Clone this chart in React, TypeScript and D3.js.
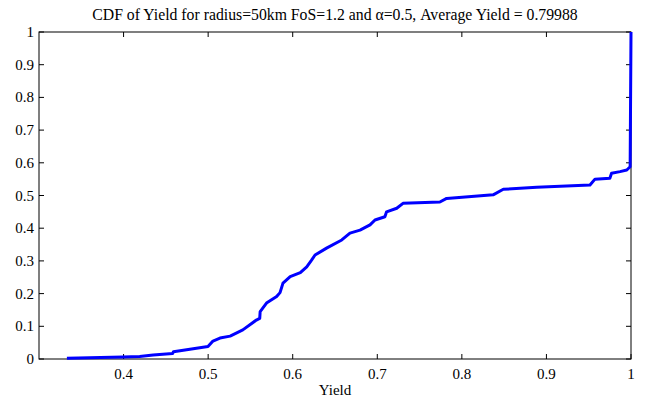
import React from "react";
import * as d3 from "d3";

const yieldValues = [0.333, 0.3993, 0.419, 0.435, 0.458, 0.459, 0.4998, 0.5057, 0.514, 0.526, 0.541, 0.557, 0.561, 0.5615, 0.569, 0.581, 0.585, 0.5885, 0.597, 0.609, 0.6166, 0.6225, 0.6264, 0.64, 0.658, 0.6677, 0.6796, 0.6914, 0.6973, 0.709, 0.711, 0.723, 0.7304, 0.774, 0.782, 0.837, 0.849, 0.8885, 0.9515, 0.9574, 0.975, 0.977, 0.987, 0.995, 0.999, 1.0];
const cdfValues = [0.002, 0.006, 0.008, 0.012, 0.017, 0.022, 0.038, 0.055, 0.064, 0.07, 0.089, 0.119, 0.124, 0.145, 0.171, 0.191, 0.203, 0.232, 0.252, 0.264, 0.282, 0.303, 0.318, 0.339, 0.364, 0.385, 0.394, 0.41, 0.425, 0.435, 0.45, 0.461, 0.476, 0.48, 0.491, 0.502, 0.519, 0.525, 0.532, 0.55, 0.553, 0.568, 0.573, 0.578, 0.588, 1.0];
const xTicks = [0.4, 0.5, 0.6, 0.7, 0.8, 0.9, 1];
const yTicks = [0, 0.1, 0.2, 0.3, 0.4, 0.5, 0.6, 0.7, 0.8, 0.9, 1];
const title = "CDF of Yield for radius=50km FoS=1.2 and \u03b1=0.5, Average Yield = 0.79988";
const xLabel = "Yield";

const W = 650, H = 401;
const L = 39, R = 631, T = 32, B = 359;

export default function App() {
  const x = d3.scaleLinear().domain([0.3, 1]).range([L, R]);
  const y = d3.scaleLinear().domain([0, 1]).range([B, T]);
  const pts = yieldValues.map((v, i) => [v, cdfValues[i]] as [number, number]);
  const line = d3.line<[number, number]>().x(d => x(d[0])).y(d => y(d[1]));
  const fs = { fontFamily: "Liberation Serif, Times New Roman, serif" };
  const tl = 5;
  return (
    <svg width={W} height={H} style={{ position: "absolute", left: 0, top: 0, background: "#fff" }}>
      <rect x={0} y={0} width={W} height={H} fill="#fff" />
      <text x={(L + R) / 2} y={20} textAnchor="middle" fontSize={15.75} fill="#000" style={fs}>{title}</text>
      {xTicks.map(t => (
        <g key={"x" + t}>
          <line x1={x(t)} x2={x(t)} y1={B} y2={B - tl} stroke="#000" />
          <line x1={x(t)} x2={x(t)} y1={T} y2={T + tl} stroke="#000" />
          <text x={x(t)} y={B + 20} textAnchor="middle" fontSize={15} fill="#000" style={fs}>{String(t)}</text>
        </g>
      ))}
      {yTicks.map(t => (
        <g key={"y" + t}>
          <line x1={L} x2={L + tl} y1={y(t)} y2={y(t)} stroke="#000" />
          <line x1={R} x2={R - tl} y1={y(t)} y2={y(t)} stroke="#000" />
          <text x={L - 5} y={y(t) + 5} textAnchor="end" fontSize={15} fill="#000" style={fs}>{String(t)}</text>
        </g>
      ))}
      <rect x={L} y={T} width={R - L} height={B - T} fill="none" stroke="#000" strokeWidth={1} />
      <path d={line(pts) || ""} fill="none" stroke="#0000ff" strokeWidth={3} strokeLinejoin="round" />
      <text x={(L + R) / 2} y={395} textAnchor="middle" fontSize={15} fill="#000" style={fs}>{xLabel}</text>
    </svg>
  );
}
